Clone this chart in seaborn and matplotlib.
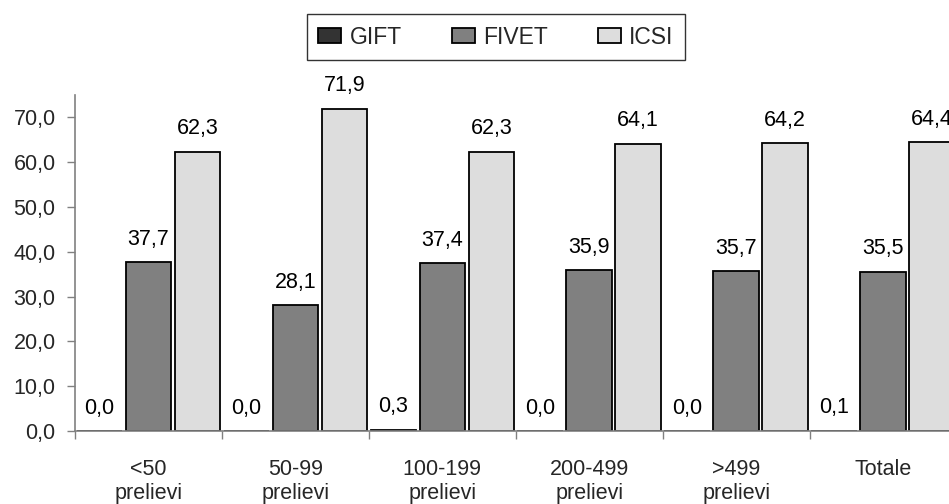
import matplotlib
matplotlib.use("Agg")
import matplotlib.pyplot as plt
import pandas as pd
import seaborn as sns

# Dati
categories = ["<50\nprelievi", "50-99\nprelievi", "100-199\nprelievi",
              "200-499\nprelievi", ">499\nprelievi", "Totale"]
series = ["GIFT", "FIVET", "ICSI"]
gift = [0.0, 0.0, 0.3, 0.0, 0.0, 0.1]
fivet = [37.7, 28.1, 37.4, 35.9, 35.7, 35.5]
icsi = [62.3, 71.9, 62.3, 64.1, 64.2, 64.4]
y_ticks = [0, 10, 20, 30, 40, 50, 60, 70]

colors = ["#333333", "#808080", "#dddddd"]


def fmt_it(v):
    return f"{v:.1f}".replace(".", ",")


def main():
    sns.set_theme(style="white")
    plt.rcParams["font.family"] = ["Liberation Sans", "DejaVu Sans"]
    fs = 15.5

    df = pd.DataFrame({
        "categoria": categories * 3,
        "tecnica": [s for s in series for _ in categories],
        "valore": gift + fivet + icsi,
    })

    fig = plt.figure(figsize=(9.49, 5.04), dpi=100)
    ax = fig.add_axes([0.079, 0.1448, 0.929, 0.6667])

    sns.barplot(
        data=df, x="categoria", y="valore", hue="tecnica",
        order=categories, hue_order=series, palette=colors,
        width=1.0, gap=0.07, edgecolor="black", linewidth=1.3,
        saturation=1, ax=ax, legend=True,
    )

    for cont in ax.containers:
        vals = [b.get_height() for b in cont]
        ax.bar_label(cont, labels=[fmt_it(v) for v in vals], padding=9,
                     fontsize=fs, color="black")

    ax.set_ylim(0, 75)
    ax.set_xlim(-0.5, 5.5)
    ax.set_yticks(y_ticks)
    ax.set_yticklabels([fmt_it(v) for v in y_ticks], fontsize=fs)
    ax.set_xticks(range(len(categories)))
    ax.set_xticklabels(categories, fontsize=fs, linespacing=1.2)
    ax.set_xticks([i - 0.5 for i in range(len(categories) + 1)], minor=True)
    ax.tick_params(axis="x", which="major", length=0, pad=20)
    ax.tick_params(axis="x", which="minor", length=6, width=1, color="#808080",
                   direction="out", bottom=True)
    ax.tick_params(axis="y", length=6, width=1, color="#808080", direction="out",
                   left=True, pad=8)
    ax.set_xlabel("")
    ax.set_ylabel("")
    for side in ["top", "right"]:
        ax.spines[side].set_visible(False)
    for side in ["left", "bottom"]:
        ax.spines[side].set_color("#808080")
        ax.spines[side].set_linewidth(1.2)

    handles, labels = ax.get_legend_handles_labels()
    ax.get_legend().remove()
    # riquadro legenda: x 307-685 px, y 12-62 px
    leg = fig.legend(handles, labels, loc="center",
                     bbox_to_anchor=(307 / 949, 1 - 62 / 504, 378 / 949, 50 / 504),
                     mode="expand", ncol=3, frameon=True, fancybox=False,
                     fontsize=16.5, handlelength=1.0, handleheight=0.6,
                     handletextpad=0.35, columnspacing=1.4, borderpad=0.5,
                     borderaxespad=0)
    leg.get_frame().set_edgecolor("black")
    leg.get_frame().set_linewidth(1.0)

    fig.savefig("out.png", dpi=100)
    plt.close(fig)


if __name__ == "__main__":
    main()
